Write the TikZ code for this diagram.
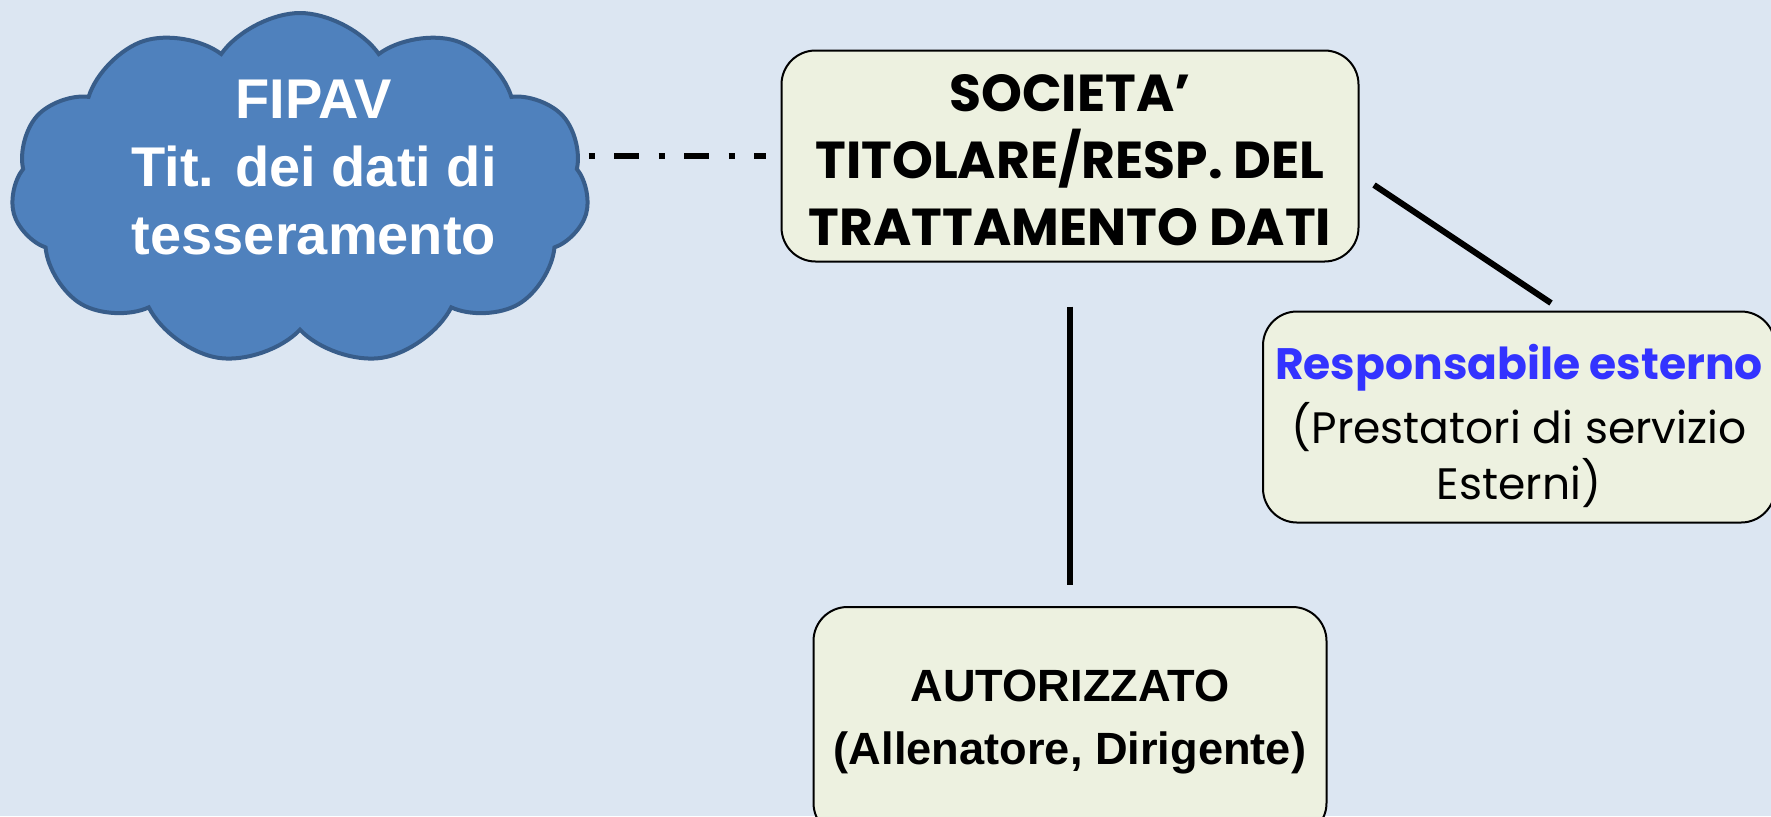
\documentclass[tikz,border=0pt]{standalone}
\usepackage{fontspec}
\setmainfont{Liberation Sans}
\newfontfamily\gothic{Poppins}
\usetikzlibrary{shapes,shapes.symbols}
\usetikzlibrary{arrows.meta, positioning}
\definecolor{bgblue}{HTML}{DCE6F2}
\definecolor{cloudfill}{HTML}{4F81BD}
\definecolor{cloudline}{HTML}{385D8A}
\definecolor{boxfill}{HTML}{EDF1E0}
\definecolor{respblue}{HTML}{3333FF}
\begin{document}
\begin{tikzpicture}[x=0.5pt,y=-0.5pt,
  box/.style={draw=black, line width=1pt, fill=boxfill, rounded corners=17pt,
    align=center, inner sep=0pt},
  link/.style={line width=3pt}]

% Background
\useasboundingbox (0,0) rectangle (1771,816);
\fill[bgblue] (0,0) rectangle (1771,816);

% Draw cloud
\node[cloud, cloud puffs=11, cloud puff arc=110, cloud ignores aspect,
  draw=cloudline, line width=2pt, fill=cloudfill,
  minimum width=289pt, minimum height=176pt] (fipav) at (300,189) {};
\node[align=center, text=white, font=\bfseries\fontsize{28}{34}\selectfont]
  (fipavtext) at (314,167) {FIPAV\\Tit. dei dati di\\tesseramento};

% Draw boxes
\node[box, minimum width=288.5pt, minimum height=105.5pt,
  font=\gothic\bfseries\fontsize{26}{33.5}\selectfont] (societa) at (1070,156)
  {\rule{0pt}{22.8pt}SOCIETA’\\TITOLARE/RESP. DEL\\TRATTAMENTO DATI};

\node[box, minimum width=256pt, minimum height=105.5pt,
  font=\gothic\fontsize{22}{28}\selectfont] (resp) at (1519,417)
  {\rule{0pt}{27pt}{\color{respblue}\bfseries Responsabile esterno}\\[4pt](Prestatori di servizio\\Esterni)};

\node[box, minimum width=256.5pt, minimum height=115pt,
  font=\bfseries\fontsize{22.6}{31.5}\selectfont] (autor) at (1070,722)
  {AUTORIZZATO\\(Allenatore, Dirigente)};

% Draw connectors
\draw[link, dash pattern=on 3.35pt off 9.5pt on 12.5pt off 9.65pt, shorten >=7.5pt]
  (fipav.east |- societa.west) -- (societa.west);

\draw[link, shorten <=22pt, shorten >=10.5pt] (societa.south) -- (autor.north);

\coordinate (d1) at (1374,185);
\coordinate (d2) at (1551,303);
\draw[link] (d1) -- (d2);

\end{tikzpicture}
\end{document}
